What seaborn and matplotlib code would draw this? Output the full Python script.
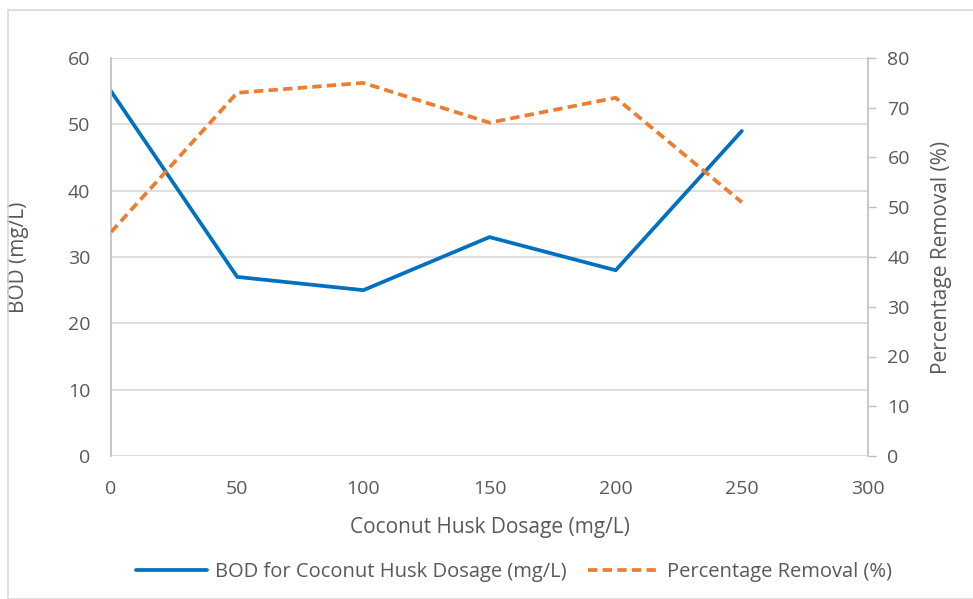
import matplotlib
matplotlib.use("Agg")
import matplotlib.pyplot as plt
import seaborn as sns
import pandas as pd
from matplotlib.patches import Rectangle

dosage = [0, 50, 100, 150, 200, 250]
bod = [55, 27, 25, 33, 28, 49]
removal = [45, 73, 75, 67, 72, 51]

sns.set_theme(style="white")
plt.rcParams['font.family'] = ['Open Sans', 'DejaVu Sans']
txt = '#595959'
grid = '#D9D9D9'

fig = plt.figure(figsize=(9.73, 5.99), dpi=100)
fig.patches.append(Rectangle((8/973, 0), 1, 1 - 10/599, transform=fig.transFigure,
                             fill=False, edgecolor='#D9D9D9', linewidth=1.2))
ax = fig.add_axes([111/973, 1 - 456/599, (868 - 111)/973, (456 - 58)/599])
ax2 = ax.twinx()

df = pd.DataFrame({'dosage': dosage, 'bod': bod, 'removal': removal})
sns.lineplot(data=df, x='dosage', y='bod', ax=ax, color='#0070C0', linewidth=2.7,
             label='BOD for Coconut Husk Dosage (mg/L)', legend=False)
sns.lineplot(data=df, x='dosage', y='removal', ax=ax2, color='#ED7D31', linewidth=2.7,
             linestyle=(0, (2.5, 1.4)), label='Percentage Removal (%)', legend=False)

ax.set_xlim(0, 300)
ax.set_ylim(0, 60)
ax2.set_ylim(0, 80)
ax.set_xticks(range(0, 301, 50))
ax.set_yticks(range(0, 61, 10))
ax2.set_yticks(range(0, 81, 10))
ax.yaxis.grid(True, color=grid, linewidth=1.2)
ax.set_axisbelow(True)

for a in (ax, ax2):
    for s in a.spines.values():
        s.set_visible(False)
ax.spines['left'].set_visible(True)
ax.spines['left'].set_color('#BFBFBF')
ax2.spines['right'].set_visible(True)
ax2.spines['right'].set_color('#BFBFBF')
ax2.spines['right'].set_linewidth(1.2)

ax.tick_params(axis='x', colors=txt, labelsize=14, length=0, pad=17)
ax.tick_params(axis='y', colors=txt, labelsize=14, length=0, pad=15)
ax2.tick_params(axis='y', colors=txt, labelsize=14, length=6, direction='out',
                width=1, pad=8)
ax2.tick_params(axis='y', color='#BFBFBF')

ax.set_xlabel('Coconut Husk Dosage (mg/L)', color=txt, fontsize=15, labelpad=14)
ax.set_ylabel('BOD (mg/L)', color=txt, fontsize=15, labelpad=28)
ax2.set_ylabel('Percentage Removal (%)', color=txt, fontsize=15, labelpad=15)

h1, l1 = ax.get_legend_handles_labels()
h2, l2 = ax2.get_legend_handles_labels()
fig.legend(h1 + h2, l1 + l2, loc='center', bbox_to_anchor=(514/973, 1 - 572/599),
           ncol=2, frameon=False, fontsize=14.5, labelcolor=txt,
           handlelength=3.5, columnspacing=1.1, handletextpad=0.4)

fig.savefig('out.png', dpi=100)
